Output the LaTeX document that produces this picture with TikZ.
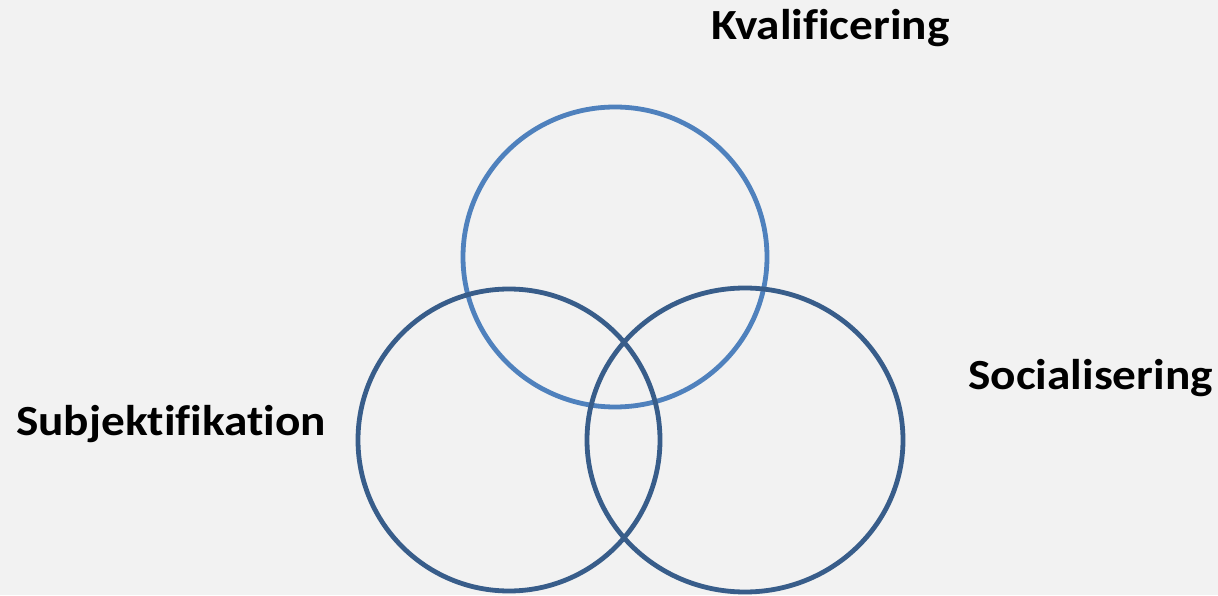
\documentclass[tikz,border=0pt]{standalone}
\usepackage{fontspec}
\setmainfont{Carlito}[Ligatures={NoCommon}]
\usepackage{tikz}
\usetikzlibrary{shapes.geometric}

\definecolor{bgcol}{HTML}{F2F2F2}
\definecolor{topblue}{HTML}{4F81BD}
\definecolor{darkblue}{HTML}{385D8A}

\begin{document}
\begin{tikzpicture}[x=1pt,y=1pt,
  ring/.style={draw,ellipse,line width=4.8pt,inner sep=0pt},
  label/.style={font=\fontsize{43}{50}\selectfont\bfseries,inner sep=0pt,xscale=1.1}]
  \fill[bgcol] (0,0) rectangle (1218,595);
  \useasboundingbox (0,0) rectangle (1218,595);
  %top
  \node[ring,draw=topblue,minimum width=304pt,minimum height=300pt] (kval) at (615,338) {};
  \node[label,anchor=base west] (kvaltext) at (711,555) {Kvalificering};
  
  %bottom
  \node[ring,draw=darkblue,minimum width=302pt,minimum height=302pt] (subj) at (509,155) {};
  \node[ring,draw=darkblue,minimum width=316pt,minimum height=304pt] (soc) at (745,155) {};
  \node[label,anchor=base west] (subjtext) at (16,160) {Subjektifikation};
  \node[label,anchor=base west] (soctext) at (968,205) {Socialisering};
\end{tikzpicture}
\end{document}
